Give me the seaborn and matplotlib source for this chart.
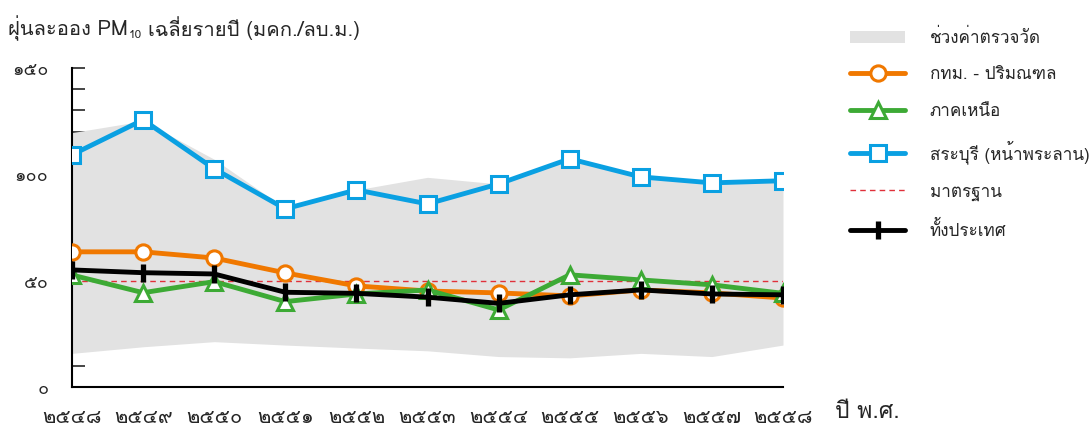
import matplotlib
matplotlib.use("Agg")
import matplotlib.pyplot as plt
import seaborn as sns
from matplotlib import font_manager
from matplotlib.ft2font import FT2Font
from matplotlib.lines import Line2D
from matplotlib.patches import Patch


YEARS = [2548, 2549, 2550, 2551, 2552, 2553, 2554, 2555, 2556, 2557, 2558]
YEAR_LABELS = ["๒๕๔๘", "๒๕๔๙", "๒๕๕๐", "๒๕๕๑", "๒๕๕๒", "๒๕๕๓",
               "๒๕๕๔", "๒๕๕๕", "๒๕๕๖", "๒๕๕๗", "๒๕๕๘"]

BKK = [63.5, 63.5, 60.6, 53.6, 47.5, 45.1, 44.2, 42.8, 45.6, 44.2, 41.8]
NORTH = [52.6, 44.3, 49.5, 40.1, 43.7, 45.6, 36.2, 52.7, 50.3, 48.0, 44.0]
SARABURI = [109.1, 125.5, 102.5, 83.7, 92.6, 86.0, 95.4, 107.2, 98.7, 95.9, 96.9]
NATIONAL = [55.0, 53.7, 53.1, 44.5, 44.0, 42.2, 39.3, 43.3, 45.6, 43.7, 43.3]
RANGE_LOW = [15.8, 18.9, 21.3, 19.7, 18.3, 17.0, 14.3, 13.7, 15.8, 14.3, 19.7]
RANGE_HIGH = [119.5, 125.0, 107.0, 84.0, 92.6, 98.5, 95.4, 107.2, 98.7, 95.9, 96.9]
STANDARD = 50

Y_TICKS = [0, 50, 100, 150]
Y_LABELS = ["๐", "๕๐", "๑๐๐", "๑๕๐"]

LEGEND_LABELS = ["ช่วงค่าตรวจวัด", "กทม. - ปริมณฑล", "ภาคเหนือ",
                 "สระบุรี (หน้าพระลาน)", "มาตรฐาน", "ทั้งประเทศ"]

ORANGE = "#F07800"
GREEN = "#3DAA35"
BLUE = "#0AA0E2"
BAND = "#E2E2E2"
RED = "#E0303A"


def find_thai_font():
    for f in font_manager.fontManager.ttflist:
        try:
            if 0x0E01 in FT2Font(f.fname).get_charmap():
                return f.name
        except Exception:
            pass
    return "DejaVu Sans"


sns.set_style("white")
thai = find_thai_font()
plt.rcParams["font.family"] = [thai, "DejaVu Sans"]

fig = plt.figure(figsize=(10.92, 4.30), dpi=100)
ax = fig.add_axes([72 / 1092, 1 - 387 / 430, (783 - 72) / 1092, (387 - 67.7) / 430])

ax.fill_between(YEARS, RANGE_LOW, RANGE_HIGH, color=BAND, linewidth=0, zorder=1)
ax.plot([YEARS[0], YEARS[-1]], [STANDARD, STANDARD], color=RED,
        linestyle=(0, (4, 3)), linewidth=1, zorder=2)

sns.lineplot(x=YEARS, y=SARABURI, ax=ax, color=BLUE, linewidth=3.5,
             marker="s", markersize=11, markerfacecolor="white",
             markeredgecolor=BLUE, markeredgewidth=2.2, zorder=3)
sns.lineplot(x=YEARS, y=BKK, ax=ax, color=ORANGE, linewidth=3.5,
             marker="o", markersize=11, markerfacecolor="white",
             markeredgecolor=ORANGE, markeredgewidth=2.2, zorder=4)
sns.lineplot(x=YEARS, y=NORTH, ax=ax, color=GREEN, linewidth=3.5,
             marker="^", markersize=12, markerfacecolor="white",
             markeredgecolor=GREEN, markeredgewidth=2.2, zorder=5)
sns.lineplot(x=YEARS, y=NATIONAL, ax=ax, color="black", linewidth=3.5,
             marker="|", markersize=13, markeredgewidth=3.8,
             markeredgecolor="black", zorder=6)

ax.set_xlim(YEARS[0], YEARS[-1])
ax.set_ylim(0, 150)
ax.set_xticks(YEARS)
ax.set_xticklabels(YEAR_LABELS, fontsize=14.5)
ax.set_yticks(Y_TICKS)
ax.set_yticklabels(Y_LABELS, fontsize=13)
ax.set_yticks(range(0, 151, 10), minor=True)
ax.tick_params(axis="y", which="both", direction="in", length=9, width=1.2,
               left=True, pad=17)
ax.tick_params(axis="x", length=0, pad=15)
sns.despine(ax=ax)
for side in ["left", "bottom"]:
    ax.spines[side].set_color("black")
    ax.spines[side].set_linewidth(1.5)

fig.text(835 / 1092, 1 - 412 / 430, "ปี พ.ศ.", fontsize=16.5, va="center")

# title with a subscript 10, pieces placed one after the other
renderer = fig.canvas.get_renderer()
t1 = fig.text(8 / 1092, 1 - 28 / 430, "ฝุ่นละออง PM", fontsize=14.5, va="center")
x1 = t1.get_window_extent(renderer).x1
t2 = fig.text((x1 + 1) / 1092, 1 - 35 / 430, "10", fontsize=8.5, va="center")
x2 = t2.get_window_extent(renderer).x1
fig.text((x2 + 6) / 1092, 1 - 28 / 430, "เฉลี่ยรายปี (มคก./ลบ.ม.)", fontsize=14.5,
         va="center")

handles = [
    Patch(facecolor=BAND, edgecolor="none"),
    Line2D([], [], color=ORANGE, linewidth=3.5, marker="o", markersize=11,
           markerfacecolor="white", markeredgecolor=ORANGE, markeredgewidth=2.2),
    Line2D([], [], color=GREEN, linewidth=3.5, marker="^", markersize=12,
           markerfacecolor="white", markeredgecolor=GREEN, markeredgewidth=2.2),
    Line2D([], [], color=BLUE, linewidth=3.5, marker="s", markersize=11,
           markerfacecolor="white", markeredgecolor=BLUE, markeredgewidth=2.2),
    Line2D([], [], color=RED, linewidth=1, linestyle=(0, (4, 3))),
    Line2D([], [], color="black", linewidth=3.5, marker="|", markersize=13,
           markeredgewidth=3.8),
]
fig.legend(handles, LEGEND_LABELS, loc="upper left",
           bbox_to_anchor=(835 / 1092, 1 - 13 / 430), frameon=False,
           fontsize=12.3, handlelength=3.2, handletextpad=1.45, labelspacing=1.2)

fig.savefig("out.png", dpi=100)
